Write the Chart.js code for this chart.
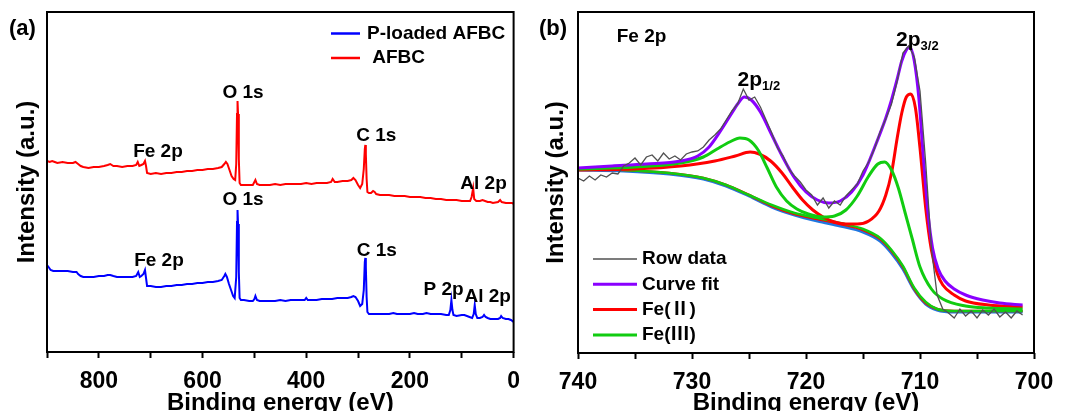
<!DOCTYPE html>
<html>
<head>
<meta charset="utf-8">
<script src="https://cdn.jsdelivr.net/npm/chart.js@4.4.1/dist/chart.umd.min.js"></script>
<style>
  body { margin: 0; background: #fff; overflow: hidden; }
  canvas { position: absolute; top: 0; }
</style>
</head>
<body>
<canvas id="surveyChart" width="530" height="411" style="left:0"></canvas>
<canvas id="fe2pChart" width="537" height="411" style="left:530px"></canvas>
<script>
const FONT = "'Liberation Sans', Arial, 'Noto Sans CJK SC', sans-serif";

// ---- (a) XPS survey, intensity in arbitrary units ----
const afbcEnergy = [900, 895, 890, 885, 880, 870, 860, 850, 845, 840, 835, 830, 820, 810, 800, 790, 783, 778, 772, 765, 755, 745, 735, 728, 725, 722, 718, 714, 711, 709, 707, 700, 690, 680, 670, 660, 650, 640, 630, 620, 610, 600, 590, 580, 570, 563, 558, 555, 552, 548, 544, 540, 537, 535, 533.5, 532.5, 531.5, 530, 528.5, 526, 520, 510, 503, 500, 498, 495, 490, 480, 470, 460, 450, 440, 430, 420, 410, 400, 390, 380, 370, 360, 352, 349, 345, 340, 330, 320, 313, 309, 305, 300, 296, 292, 289, 287, 286, 285, 283.5, 282, 279, 275, 271, 268, 265, 258, 250, 240, 230, 220, 210, 200, 190, 180, 170, 160, 150, 140, 130, 120, 110, 100, 90, 84, 81, 78, 76, 72, 65, 60, 55, 50, 45, 40, 30, 26, 23, 15, 8, 3, 0];
const afbcIntensity = [191, 190, 191, 190, 189, 190, 189, 189, 190, 188, 186, 185, 184, 185, 185, 186, 187, 188, 186, 186, 185, 186, 186, 187, 190, 186, 187, 188, 191, 186, 179, 178, 179, 178, 179, 179, 180, 180, 181, 181, 182, 182, 183, 183, 184, 185, 188, 190, 188, 182, 176, 173, 172, 188, 238, 251, 238, 193, 169, 167, 167, 167, 167, 170, 172, 168, 167, 167, 167, 168, 167, 168, 168, 168, 168, 169, 168, 169, 169, 169, 170, 173, 170, 170, 171, 171, 172, 174, 172, 167, 164, 168, 183, 203, 207, 198, 173, 160, 159, 159, 161, 160, 158, 157, 157, 157, 156, 156, 156, 155, 155, 155, 154, 154, 153, 153, 152, 152, 152, 151, 151, 151, 155, 164, 153, 151, 151, 152, 151, 150, 150, 149, 150, 152, 150, 149, 149, 149, 148];

const pLoadedEnergy = [900, 897, 893, 888, 880, 870, 860, 850, 843, 840, 835, 830, 820, 810, 800, 790, 783, 778, 772, 765, 755, 745, 735, 728, 724, 721, 718, 714, 711, 709, 707, 700, 690, 680, 670, 660, 650, 640, 630, 620, 610, 600, 590, 580, 570, 563, 558, 556, 553, 549, 545, 541, 538, 535, 533.5, 532.5, 531.5, 530, 528.5, 526, 520, 510, 503, 500, 498, 495, 490, 480, 470, 460, 450, 440, 430, 420, 410, 403, 400, 397, 390, 380, 370, 360, 350, 340, 330, 320, 313, 309, 305, 300, 296, 292, 289, 287, 286, 285, 283.5, 282, 279, 270, 260, 250, 240, 232, 225, 210, 200, 192, 185, 175, 168, 160, 150, 140, 130, 125, 122, 120, 118, 116, 110, 100, 95, 90, 85, 80, 77, 75, 73, 70, 65, 60, 57, 54, 50, 45, 40, 30, 26, 24, 21, 15, 10, 5, 0];
const pLoadedIntensity = [87, 85, 82, 81, 81, 81, 81, 80, 80, 78, 76, 75, 75, 75, 76, 76, 77, 77, 76, 75, 75, 75, 75, 76, 80, 75, 76, 78, 82, 74, 66, 66, 65, 65, 66, 66, 67, 67, 68, 68, 69, 69, 70, 70, 71, 72, 76, 78, 75, 68, 62, 56, 54, 75, 130, 142, 128, 80, 54, 52, 52, 51, 51, 53, 56, 52, 51, 51, 51, 51, 52, 51, 52, 52, 52, 52, 54, 52, 52, 52, 53, 53, 53, 54, 54, 54, 55, 56, 55, 51, 46, 48, 62, 90, 94, 85, 55, 40, 38, 38, 38, 38, 38, 39, 38, 38, 38, 39, 38, 38, 39, 38, 38, 38, 37, 37, 42, 52, 42, 37, 36, 37, 37, 36, 35, 34, 38, 47, 38, 34, 34, 35, 37, 35, 34, 33, 33, 33, 34, 36, 34, 33, 33, 32, 30];

const surveyTickLabels = [800, 600, 400, 200, 0];

// ---- (b) Fe 2p high resolution ----
const rawEnergy = [740, 739.5, 739, 738.5, 738, 737.5, 737, 736.5, 736, 735.5, 735, 734.5, 734, 733.5, 733, 732.5, 732, 731.5, 731, 730.5, 730,
  729.5, 729, 728.5, 728, 727.5, 727, 726.5, 726, 725.5, 725, 724.5, 724, 723.5, 723, 722.5, 722, 721.5, 721, 720.5, 720,
  719.5, 719, 718.5, 718, 717.5, 717, 716.5, 716, 715.5, 715, 714.5, 714, 713.5, 713, 712.5, 712, 711.5, 711, 710.5, 710,
  709.5, 709, 708.5, 708, 707.5, 707, 706.5, 706, 705.5, 705, 704.5, 704, 703.5, 703, 702.5, 702, 701.5, 701];
const rawIntensity = [175, 172, 177, 173, 178, 176, 180, 179, 187, 190, 195, 188, 196, 198, 192, 200, 194, 197, 193, 199, 201,
  202, 206, 213, 218, 224, 233, 242, 249, 264, 253, 256, 246, 233, 220, 205, 197, 184, 177, 171, 163,
  158, 148, 155, 145, 152, 148, 157, 163, 169, 182, 191, 204, 221, 234, 249, 272, 300, 307, 296, 262,
  190, 105, 58, 44, 40, 35, 44, 37, 42, 35, 43, 38, 44, 36, 41, 35, 42, 38];

const fitEnergy = [740, 737, 734, 731, 729.5, 728.5, 727.5, 726.5, 726, 725.4, 724.8, 724, 723, 722, 721, 720, 719, 718, 717, 716, 715, 714, 713, 712.5, 712, 711.6, 711.2, 710.9, 710.5, 710.1, 709.7, 709.3, 708.9, 708.4, 707.8, 707, 706, 704.5, 703, 701];
const fitIntensity = [185, 187, 189, 192, 197, 206, 222, 240, 249, 256, 253, 241, 218, 195, 175, 161, 153, 150, 152, 161, 178, 205, 235, 253, 274, 292, 303, 306, 292, 255, 195, 140, 105, 84, 72, 64, 58, 53, 50, 48];

const fe2Energy = [740, 735, 731, 728, 726.2, 724.9, 724.1, 723.1, 722.1, 721.2, 720.3, 719.4, 718.5, 717.5, 716.5, 715.5, 714.5, 713.6, 713, 712.5, 712, 711.6, 711.2, 710.8, 710.4, 710, 709.5, 709, 708.5, 708, 707, 706, 704, 701];
const fe2Intensity = [183, 184, 187, 192, 197, 201, 199, 192, 180, 166, 153, 143, 136, 131, 129, 129, 132, 142, 158, 180, 215, 240, 256, 259, 245, 205, 145, 103, 80, 68, 58, 52, 48, 46];

const fe3Energy = [740, 735, 731, 729, 727.8, 726.7, 725.8, 725, 724.2, 723.4, 722.6, 721.7, 720.8, 719.8, 718.5, 717.5, 716.5, 715.5, 714.5, 713.7, 713.1, 712.5, 711.9, 711.3, 710.7, 710, 709, 708, 706, 704, 701];
const fe3Intensity = [184, 186, 190, 196, 204, 211, 215, 213, 203, 185, 166, 152, 144, 139, 136, 137, 143, 157, 177, 189, 191, 183, 165, 140, 115, 86, 64, 54, 47, 45, 44];

const bgEnergy = [740, 736, 732, 729, 727, 725, 723, 721, 719, 717, 715, 713.5, 712.5, 711.5, 710.5, 709.5, 708.5, 707, 704, 701];
const bgIntensity = [183, 182, 179, 174, 167, 157, 146, 138, 132, 127, 121, 112, 100, 84, 63, 49, 43, 41, 41, 41];
const fe2BgIntensity = [184, 183, 180, 175, 168, 158, 147, 139, 134, 129, 123, 114, 102, 86, 64, 50, 44, 42, 42, 42];
const fe3BgIntensity = [184, 183, 180, 175, 168, 158, 148, 140, 135, 130, 124, 115, 103, 87, 65, 51, 44, 42, 42, 42];

const fe2pTickLabels = [740, 730, 720, 710, 700];

function pts(xs, ys) {
  return xs.map((x, i) => ({ x: x, y: ys[i] }));
}

// black box round the plot area
const framePlugin = {
  id: 'frame',
  afterDatasetsDraw(chart) {
    const { ctx, chartArea: a } = chart;
    ctx.save();
    ctx.strokeStyle = '#000';
    ctx.lineWidth = 2;
    ctx.strokeRect(a.left, a.top, a.right - a.left, a.bottom - a.top);
    ctx.restore();
  }
};

// peak names, panel letter and legend
const notesPlugin = {
  id: 'notes',
  afterDraw(chart, args, opts) {
    const ctx = chart.ctx;
    const xs = chart.scales.x, ys = chart.scales.y;
    ctx.save();
    ctx.fillStyle = '#000';
    ctx.textBaseline = 'middle';

    ctx.font = 'bold 22px ' + FONT;
    ctx.textAlign = 'left';
    ctx.fillText(opts.panel, 9, 29);

    (opts.peaks || []).forEach(p => {
      const px = xs.getPixelForValue(p.x);
      const py = ys.getPixelForValue(p.y);
      ctx.font = 'bold ' + p.size + 'px ' + FONT;
      ctx.textAlign = p.align || 'center';
      ctx.fillText(p.text, px, py);
      if (p.sub) {
        const w = ctx.measureText(p.text).width;
        ctx.font = 'bold 13px ' + FONT;
        ctx.textAlign = 'left';
        ctx.fillText(p.sub, px + w, py + 6);
      }
    });

    const lg = opts.legend;
    chart.data.datasets.filter(d => d.inLegend).forEach((d, i) => {
      const y = lg.y + i * lg.row;
      ctx.strokeStyle = d.borderColor;
      ctx.lineWidth = d.legendWidth || d.borderWidth;
      ctx.beginPath();
      ctx.moveTo(lg.x, y);
      ctx.lineTo(lg.x + lg.line, y);
      ctx.stroke();
      ctx.font = 'bold 19px ' + FONT;
      ctx.textAlign = 'left';
      ctx.fillText(d.label, lg.x + lg.line + lg.gap, y);
    });
    ctx.restore();
  }
};

function xAxis(min, max, step, labels, height) {
  return {
    type: 'linear', min: min, max: max, reverse: true,
    afterFit: s => { s.height = height; },
    ticks: {
      stepSize: step, autoSkip: false, maxRotation: 0, padding: 10, color: '#000',
      font: { family: FONT, size: 23, weight: 'bold' },
      callback: v => labels.includes(v) ? String(v) : ''
    },
    grid: { display: true, drawOnChartArea: false, drawTicks: true, tickLength: 6, tickWidth: 2, tickColor: '#000' },
    border: { display: false },
    title: {
      display: true, text: 'Binding energy (eV)', color: '#000',
      font: { family: FONT, size: 24, weight: 'bold', lineHeight: 1 },
      padding: { top: 0, bottom: -4 }
    }
  };
}

function yAxis(max, width) {
  return {
    type: 'linear', min: 0, max: max,
    afterFit: s => { s.width = width; },
    ticks: { display: false },
    grid: { display: false },
    border: { display: false },
    title: {
      display: true, text: 'Intensity (a.u.)', color: '#000',
      font: { family: FONT, size: 24, weight: 'bold', lineHeight: 1 },
      padding: { top: 14, bottom: 0 }
    }
  };
}

const lineDefaults = { pointRadius: 0, fill: false, tension: 0 };

new Chart(document.getElementById('surveyChart'), {
  type: 'line',
  data: {
    datasets: [
      Object.assign({ label: 'P-loaded AFBC', data: pts(pLoadedEnergy, pLoadedIntensity), borderColor: '#0000FF', borderWidth: 2, inLegend: true, legendWidth: 2.5 }, lineDefaults),
      Object.assign({ label: ' AFBC', data: pts(afbcEnergy, afbcIntensity), borderColor: '#FF0000', borderWidth: 2, inLegend: true, legendWidth: 2.5 }, lineDefaults)
    ]
  },
  options: {
    responsive: false, animation: false, devicePixelRatio: 1,
    layout: { padding: { left: 1, right: 15, top: 12, bottom: 0 } },
    scales: { x: xAxis(0, 900, 100, surveyTickLabels, 59), y: yAxis(340, 46) },
    plugins: {
      legend: { display: false }, tooltip: { enabled: false },
      notes: {
        panel: '(a)',
        legend: { x: 331, y: 33.5, row: 24.5, line: 29, gap: 7 },
        peaks: [
          { text: 'Fe 2p', x: 686, y: 200, size: 19 },
          { text: 'O 1s', x: 522, y: 259, size: 19 },
          { text: 'C 1s', x: 265, y: 216, size: 19 },
          { text: 'Al 2p', x: 58, y: 168, size: 19 },
          { text: 'Fe 2p', x: 684, y: 91, size: 19 },
          { text: 'O 1s', x: 522, y: 152, size: 19 },
          { text: 'C 1s', x: 264, y: 101, size: 19 },
          { text: 'P 2p', x: 135, y: 62, size: 19 },
          { text: 'Al 2p', x: 50, y: 55, size: 19 }
        ]
      }
    }
  },
  plugins: [framePlugin, notesPlugin]
});

const smooth = { pointRadius: 0, fill: false, cubicInterpolationMode: 'monotone' };

new Chart(document.getElementById('fe2pChart'), {
  type: 'line',
  data: {
    datasets: [
      Object.assign({ label: 'Row data', data: pts(rawEnergy, rawIntensity), borderColor: '#505050', borderWidth: 1.3, order: 0, inLegend: true, legendWidth: 1.5 }, lineDefaults),
      Object.assign({ label: 'Curve fit', data: pts(fitEnergy, fitIntensity), borderColor: '#8A00FF', borderWidth: 3, order: 1, inLegend: true }, smooth),
      Object.assign({ label: 'Fe(Ⅱ)', data: pts(fe2Energy, fe2Intensity), borderColor: '#FF0000', borderWidth: 3, order: 3, inLegend: true }, smooth),
      Object.assign({ label: 'Fe(Ⅲ)', data: pts(fe3Energy, fe3Intensity), borderColor: '#11CC11', borderWidth: 3, order: 2, inLegend: true }, smooth),
      Object.assign({ label: 'Fe(Ⅲ) base', data: pts(bgEnergy, fe3BgIntensity), borderColor: '#11CC11', borderWidth: 2.5, order: 4 }, smooth),
      Object.assign({ label: 'Fe(Ⅱ) base', data: pts(bgEnergy, fe2BgIntensity), borderColor: '#FF0000', borderWidth: 2.5, order: 5 }, smooth),
      Object.assign({ label: 'Background', data: pts(bgEnergy, bgIntensity), borderColor: '#1F77E0', borderWidth: 3, order: 6 }, smooth)
    ]
  },
  options: {
    responsive: false, animation: false, devicePixelRatio: 1,
    layout: { padding: { left: 0, right: 33, top: 12, bottom: 0 } },
    scales: { x: xAxis(700, 740, 5, fe2pTickLabels, 58), y: yAxis(341, 48) },
    plugins: {
      legend: { display: false }, tooltip: { enabled: false },
      notes: {
        panel: '(b)',
        legend: { x: 63, y: 259, row: 25.3, line: 44, gap: 5 },
        peaks: [
          { text: 'Fe 2p', x: 736.6, y: 316, size: 19, align: 'left' },
          { text: '2p', sub: '1/2', x: 726.0, y: 273, size: 21, align: 'left' },
          { text: '2p', sub: '3/2', x: 712.1, y: 313, size: 21, align: 'left' }
        ]
      }
    }
  },
  plugins: [framePlugin, notesPlugin]
});
</script>
</body>
</html>
